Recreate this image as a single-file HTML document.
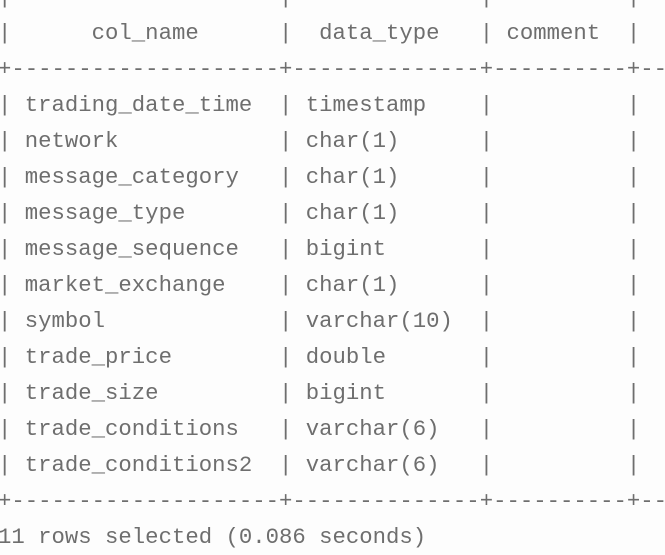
<!DOCTYPE html>
<html><head><meta charset="utf-8"><style>
html,body{margin:0;padding:0;width:665px;height:554px;overflow:hidden;background:#fdfdfd;}
pre{position:absolute;left:-2px;top:-21px;margin:0;font-family:"Liberation Mono",monospace;font-size:22.3px;line-height:36px;color:#6e6e6e;white-space:pre;}
</style></head><body>
<pre>|                    |              |          |
|      col_name      |  data_type   | comment  |
+--------------------+--------------+----------+--
| trading_date_time  | timestamp    |          |
| network            | char(1)      |          |
| message_category   | char(1)      |          |
| message_type       | char(1)      |          |
| message_sequence   | bigint       |          |
| market_exchange    | char(1)      |          |
| symbol             | varchar(10)  |          |
| trade_price        | double       |          |
| trade_size         | bigint       |          |
| trade_conditions   | varchar(6)   |          |
| trade_conditions2  | varchar(6)   |          |
+--------------------+--------------+----------+--
11 rows selected (0.086 seconds)</pre>
</body></html>
